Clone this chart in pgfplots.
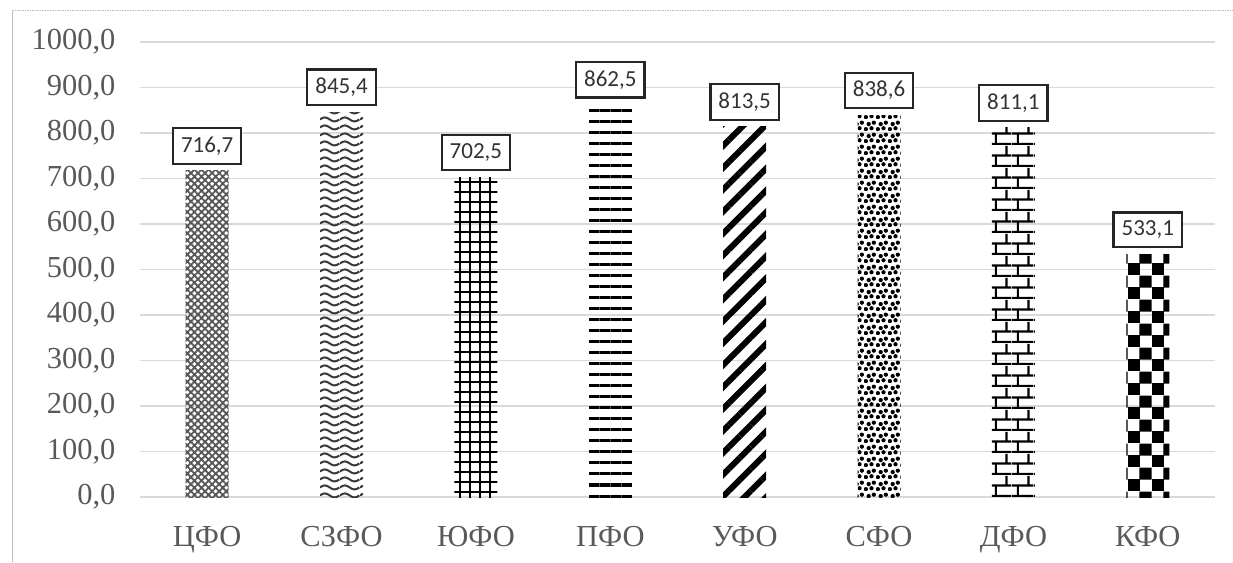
\documentclass[border=0pt]{standalone}
\usepackage{fontspec}
\setmainfont{Liberation Serif}
\newfontfamily\calib{Carlito}
\usepackage{pgfplots}
\pgfplotsset{compat=1.18}
\usetikzlibrary{patterns.meta}

\definecolor{tickgrey}{HTML}{595959}
\definecolor{gridgrey}{HTML}{D9D9D9}
\definecolor{framegrey}{HTML}{BFBFBF}
\definecolor{labeltext}{HTML}{333333}

% fill patterns for the individual districts
\tikzdeclarepattern{
  name=waves, type=uncolored,
  bounding box={(0pt,0pt) and (20pt,8pt)},
  tile size={(20pt,8pt)},
  code={\draw[line width=2.2pt] (0pt,4pt) sin (5pt,6.3pt) cos (10pt,4pt) sin (15pt,1.7pt) cos (20pt,4pt);}
}
\tikzdeclarepattern{
  name=confetti, type=uncolored,
  bounding box={(0pt,0pt) and (12pt,12pt)},
  tile size={(12pt,12pt)},
  code={
    \fill (2pt,2pt) circle (2.3pt);
    \fill (8pt,3pt) circle (2.3pt);
    \fill (5pt,7.5pt) circle (2.3pt);
    \fill (10.5pt,9pt) circle (2.3pt);
  }
}
\tikzdeclarepattern{
  name=brickwall, type=uncolored,
  bounding box={(0pt,0pt) and (22pt,22pt)},
  tile size={(22pt,22pt)},
  code={
    \draw[line width=2.2pt] (0pt,1pt) -- (22pt,1pt);
    \draw[line width=2.2pt] (0pt,12pt) -- (22pt,12pt);
    \draw[line width=2.2pt] (6pt,1pt) -- (6pt,12pt);
    \draw[line width=2.2pt] (17pt,12pt) -- (17pt,22pt);
  }
}
\tikzdeclarepattern{
  name=checker, type=uncolored,
  bounding box={(0pt,0pt) and (24pt,24pt)},
  tile size={(24pt,24pt)},
  code={
    \fill (-0.3pt,-0.3pt) rectangle (12.3pt,12.3pt);
    \fill (11.7pt,11.7pt) rectangle (24.3pt,24.3pt);
  }
}

\begin{document}
\begin{tikzpicture}
\useasboundingbox (0pt,0pt) rectangle (1233pt,562pt);
\draw[framegrey, line width=1pt] (12pt,0pt) -- (12pt,551pt);
\draw[framegrey, line width=1pt, dash pattern=on 1.5pt off 1pt] (12pt,551pt) -- (1233pt,551pt);
\begin{axis}[
  at={(140pt,65pt)}, anchor=south west,
  scale only axis, width=1075pt, height=455pt,
  xmin=-0.5, xmax=7.5, ymin=0, ymax=1000,
  xtick={0,...,7},
  xticklabels={ЦФО,СЗФО,ЮФО,ПФО,УФО,СФО,ДФО,КФО},
  ytick={0,100,...,1000},
  /pgf/number format/assume math mode=true,
  yticklabel={\pgfmathprintnumber[fixed,fixed zerofill,precision=1,use comma,1000 sep={}]{\tick}},
  ticklabel style={font=\fontsize{30.5pt}{32pt}\selectfont, text=tickgrey},
  yticklabel style={xshift=-21pt},
  xticklabel style={yshift=-26pt},
  major tick length=0pt,
  tick style={draw=none},
  axis line style={draw=none},
  ymajorgrids,
  major grid style={draw=gridgrey, line width=1.2pt},
  ybar, bar width=43pt, bar shift=0pt,
  nodes near coords={\pgfmathprintnumber[fixed,fixed zerofill,precision=1,use comma]{\pgfplotspointmeta}},
  every node near coord/.append style={
    font=\calib\fontsize{23pt}{25pt}\selectfont, text=labeltext,
    draw=black!85, line width=2.2pt, fill=white,
    inner xsep=8pt, inner ysep=8.5pt, anchor=south, yshift=6pt},
  clip=false,
]
\addplot[draw=none, pattern={Hatch[angle=45, distance=5pt, line width=1.8pt]}, pattern color=black!66] coordinates {(0,716.7)};
\addplot[draw=none, pattern=waves, pattern color=black!78] coordinates {(1,845.4)};
\addplot[draw=none, pattern={Hatch[angle=0, distance=10pt, line width=2.2pt]}, pattern color=black] coordinates {(2,702.5)};
\addplot[draw=none, pattern={Lines[angle=0, distance=11pt, line width=3pt]}, pattern color=black] coordinates {(3,862.5)};
\addplot[draw=none, pattern={Lines[angle=45, distance=15.5pt, line width=6pt]}, pattern color=black] coordinates {(4,813.5)};
\addplot[draw=none, pattern=confetti, pattern color=black] coordinates {(5,838.6)};
\addplot[draw=none, pattern=brickwall, pattern color=black] coordinates {(6,811.1)};
\addplot[draw=none, pattern=checker, pattern color=black] coordinates {(7,533.1)};
\end{axis}
\end{tikzpicture}
\end{document}
